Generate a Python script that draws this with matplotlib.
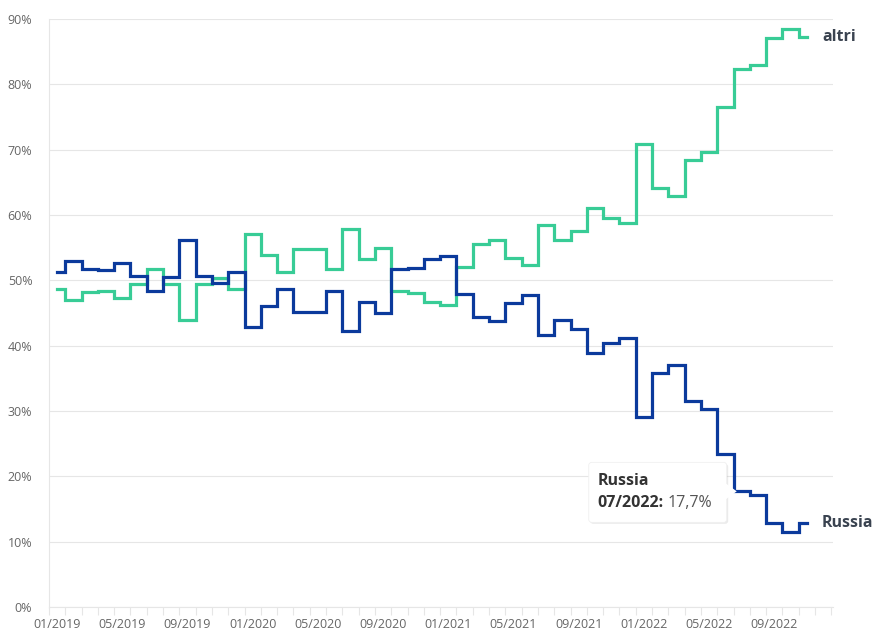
import numpy as np
import pandas as pd
import matplotlib
matplotlib.use('Agg')
import matplotlib.pyplot as plt
from matplotlib.patches import FancyBboxPatch, Polygon
from matplotlib.transforms import IdentityTransform

plt.rcParams['font.family'] = ['Open Sans', 'DejaVu Sans']

# monthly shares (%) 01/2019 .. 11/2022
months = pd.date_range('2019-01-01', '2022-11-01', freq='MS').strftime('%m/%Y').tolist()

russia = [51.3, 53.0, 51.8, 51.6, 52.7, 50.6, 48.3, 50.5, 56.1, 50.6,
          49.6, 51.3, 42.9, 46.1, 48.7, 45.2, 45.2, 48.3, 42.2, 46.7,
          45.0, 51.7, 51.9, 53.3, 53.7, 47.9, 44.4, 43.8, 46.6, 47.7,
          41.6, 43.9, 42.5, 38.9, 40.4, 41.2, 29.1, 35.8, 37.1, 31.6,
          30.3, 23.4, 17.7, 17.1, 12.9, 11.5, 12.8]

altri = [48.7, 47.0, 48.2, 48.4, 47.3, 49.4, 51.7, 49.5, 43.9, 49.4,
         50.4, 48.7, 57.1, 53.9, 51.3, 54.8, 54.8, 51.7, 57.8, 53.3,
         55.0, 48.3, 48.1, 46.7, 46.3, 52.1, 55.6, 56.2, 53.4, 52.3,
         58.4, 56.1, 57.5, 61.1, 59.6, 58.8, 70.9, 64.2, 62.9, 68.4,
         69.7, 76.6, 82.3, 82.9, 87.1, 88.5, 87.2]

yticks = [0, 10, 20, 30, 40, 50, 60, 70, 80, 90]
label_every = 4
tooltip_idx = 42

blue = '#0b3a9c'
green = '#38cc96'
grid_c = '#e6e6e6'
text_c = '#3a4350'

W, H = 878, 632
fig = plt.figure(figsize=(W / 100, H / 100), dpi=100)
ax = fig.add_axes([49 / W, 25 / H, (833 - 49) / W, (613 - 25) / H])

x = np.arange(len(months))
ax.step(x, altri, where='mid', color=green, lw=2.3, solid_joinstyle='miter', zorder=3)
ax.step(x, russia, where='mid', color=blue, lw=2.3, solid_joinstyle='miter', zorder=3)

ax.set_xlim(-0.5, 47.6)
ax.set_ylim(0, 90)

ax.set_yticks(yticks)
ax.set_yticklabels([f'{v}%' for v in yticks])
ax.yaxis.grid(True, color=grid_c, lw=0.8)
ax.set_axisbelow(True)
ax.tick_params(axis='y', length=0, pad=12, labelsize=9, labelcolor='#666666')

ax.set_xticks(x[::label_every])
ax.set_xticklabels(months[::label_every])
ax.set_xticks(np.arange(-0.5, 48, 1), minor=True)
ax.tick_params(axis='x', which='major', length=0, pad=8, labelsize=9, labelcolor='#666666')
ax.tick_params(axis='x', which='minor', length=6, width=0.8, color=grid_c)

for s in ['top', 'right']:
    ax.spines[s].set_visible(False)
ax.spines['left'].set_color(grid_c)
ax.spines['bottom'].set_color(grid_c)
ax.spines['left'].set_linewidth(0.8)
ax.spines['bottom'].set_linewidth(0.8)

# series labels at line ends
for vals, name in [(altri, 'altri'), (russia, 'Russia')]:
    ax.annotate(name, xy=(x[-1], vals[-1]), xytext=(15, 0),
                textcoords='offset pixels', va='center', ha='left',
                fontsize=11.5, fontweight='bold', color=text_c, annotation_clip=False)

# tooltip
tx, ty = ax.transData.transform((x[tooltip_idx], russia[tooltip_idx]))
ident = IdentityTransform()
bx0, bx1 = tx - 153, tx - 15
by0, by1 = ty - 31, ty + 29
shadow = FancyBboxPatch((bx0 + 1.5, by0 - 1.5), bx1 - bx0, by1 - by0,
                        boxstyle='round,pad=0,rounding_size=3', transform=ident,
                        fc='#000000', ec='none', alpha=0.08, zorder=5)
box = FancyBboxPatch((bx0, by0), bx1 - bx0, by1 - by0,
                     boxstyle='round,pad=0,rounding_size=3', transform=ident,
                     fc='white', ec='#f0f0f0', lw=0.6, zorder=6)
ptr = Polygon([(bx1 - 1, ty + 8), (tx - 5, ty), (bx1 - 1, ty - 8)], closed=True,
              transform=ident, fc='white', ec='none', zorder=7)
for p in (shadow, box, ptr):
    p.set_clip_on(False)
    fig.add_artist(p)

fig.text(bx0 + 9, ty + 10, 'Russia', transform=ident, fontsize=11.5,
         fontweight='bold', color='#333333', va='center', ha='left', zorder=8)
t1 = fig.text(bx0 + 9, ty - 12, f'{months[tooltip_idx]}:', transform=ident, fontsize=11.5,
              fontweight='bold', color='#333333', va='center', ha='left', zorder=8)
fig.canvas.draw()
ext = t1.get_window_extent()
fig.text(ext.x1 + 4, ty - 12, f'{russia[tooltip_idx]:.1f}%'.replace('.', ','), transform=ident,
         fontsize=11.5, color='#555555', va='center', ha='left', zorder=8)

fig.savefig('out.png', dpi=100, facecolor='white')
